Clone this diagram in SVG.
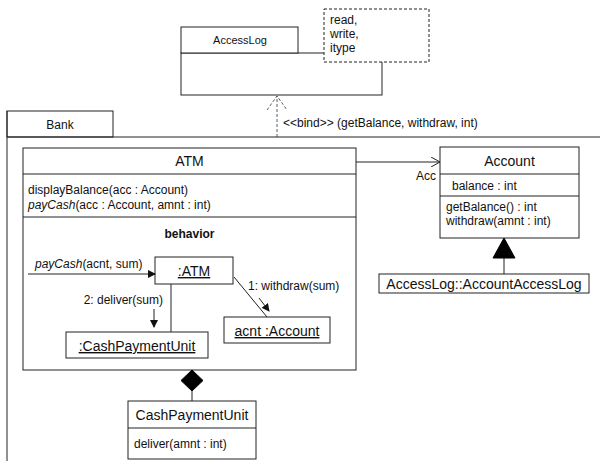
<svg xmlns="http://www.w3.org/2000/svg" width="600" height="461" viewBox="0 0 600 461">
  <style>
    .box { fill: #fff; stroke: #222; stroke-width: 1; }
    .ln { fill: none; stroke: #222; stroke-width: 1; }
    .dash { fill: none; stroke: #333; stroke-width: 0.8; stroke-dasharray: 3,2; }
    text { font-family: "Liberation Sans", Arial, sans-serif; font-size: 12px; fill: #111; }
    .cls { font-size: 14px; }
    .mid { text-anchor: middle; }
    .end { text-anchor: end; }
    .obj { font-size: 14px; text-decoration: underline; text-anchor: middle; }
    .it { font-style: italic; }
  </style>
  <defs>
    <marker id="fill-arrow" markerWidth="8" markerHeight="8" refX="7" refY="4" orient="auto" markerUnits="userSpaceOnUse">
      <path d="M0,0 L8,4 L0,8 Z" fill="#111"/>
    </marker>
    <marker id="open-arrow" markerWidth="10" markerHeight="10" refX="9" refY="5" orient="auto" markerUnits="userSpaceOnUse">
      <path d="M0,0 L9,5 L0,10" fill="none" stroke="#222" stroke-width="1"/>
    </marker>
  </defs>

  <!-- Bank package frame -->
  <g id="bank">
    <rect class="box" x="7" y="111" width="106" height="26"/>
    <text class="mid" x="60" y="129">Bank</text>
    <path class="ln" d="M7,137 H600 M7,111 V461"/>
  </g>

  <!-- AccessLog template class -->
  <g id="accesslog">
    <rect class="box" x="181" y="53" width="201" height="42"/>
    <rect class="box" x="181" y="27" width="117" height="26"/>
    <text class="mid" x="240" y="44" style="font-size:11px">AccessLog</text>
    <rect x="324" y="9" width="105" height="53" fill="#fff" stroke="#222" stroke-width="1" stroke-dasharray="3,2"/>
    <text x="330" y="24">read,</text>
    <text x="330" y="38">write,</text>
    <text x="330" y="52">itype</text>
  </g>

  <!-- ATM class with behavior compartment -->
  <g id="atm">
    <rect class="box" x="23" y="148" width="333" height="222"/>
    <path class="ln" d="M23,174 H356 M23,217 H356"/>
    <text class="cls mid" x="189.5" y="166">ATM</text>
    <text x="28" y="194">displayBalance(acc : Account)</text>
    <text x="28" y="209"><tspan class="it">payCash</tspan>(acc : Account, amnt : int)</text>
    <text class="mid" x="189.5" y="238" style="font-weight:bold">behavior</text>
  </g>

  <g id="obj-atm">
    <rect class="box" x="155" y="257" width="78" height="27"/>
    <text class="obj" x="194" y="276">:ATM</text>
  </g>

  <g id="obj-cashpaymentunit">
    <rect class="box" x="66" y="332" width="142" height="26"/>
    <text class="obj" x="137" y="351">:CashPaymentUnit</text>
  </g>

  <g id="obj-acnt">
    <rect class="box" x="224" y="317" width="106" height="26"/>
    <text class="obj" x="277" y="336">acnt :Account</text>
  </g>

  <!-- Account class -->
  <g id="account">
    <rect class="box" x="440" y="147" width="139" height="91"/>
    <path class="ln" d="M440,174 H579 M440,196 H579"/>
    <text class="cls mid" x="509.5" y="166">Account</text>
    <text x="452" y="190">balance : int</text>
    <text x="446" y="211">getBalance() : int</text>
    <text x="446" y="225">withdraw(amnt : int)</text>
  </g>

  <!-- Bound class -->
  <g id="accountaccesslog">
    <rect class="box" x="379" y="274" width="210" height="19"/>
    <text class="cls mid" x="484" y="289">AccessLog::AccountAccessLog</text>
  </g>

  <!-- CashPaymentUnit class -->
  <g id="cashpaymentunit">
    <rect class="box" x="128" y="401" width="128" height="58"/>
    <path class="ln" d="M128,428 H256"/>
    <text class="cls mid" x="192" y="420">CashPaymentUnit</text>
    <text x="134" y="448">deliver(amnt : int)</text>
  </g>

  <!-- Connectors -->
  <g id="connectors">
    <!-- bind dependency -->
    <path class="dash" d="M277,137 V96"/>
    <path class="dash" d="M267,110 L277,96 L287,110"/>
    <text x="283" y="127">&lt;&lt;bind&gt;&gt; (getBalance, withdraw, int)</text>

    <!-- ATM to Account association -->
    <path class="ln" d="M356,162 H440" marker-end="url(#open-arrow)"/>
    <text class="end" x="436" y="180">Acc</text>

    <!-- generalization -->
    <path class="ln" d="M504,274 V258"/>
    <path d="M504,238 L515,258 L493,258 Z" fill="#000" stroke="#000" stroke-width="1"/>

    <!-- composition -->
    <path d="M192,370 L203,380.5 L192,391 L181,380.5 Z" fill="#000" stroke="#000" stroke-width="1"/>
    <path class="ln" d="M192,391 V401"/>

    <!-- behavior links and messages -->
    <path class="ln" d="M28,274 H155" marker-end="url(#fill-arrow)"/>
    <text x="35" y="268"><tspan class="it">payCash</tspan>(acnt, sum)</text>
    <path class="ln" d="M171,284 V332"/>
    <path class="ln" d="M234,277 L267,317"/>
    <text class="end" x="163" y="304">2: deliver(sum)</text>
    <path class="ln" d="M154,309 V327" marker-end="url(#fill-arrow)"/>
    <text x="248" y="290">1: withdraw(sum)</text>
    <path class="ln" d="M259,298 L269,311" marker-end="url(#fill-arrow)"/>
  </g>
</svg>
